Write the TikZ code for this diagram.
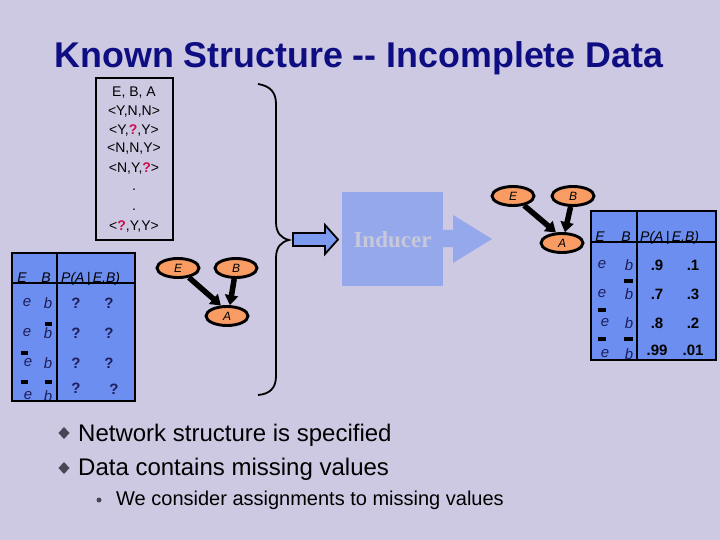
\documentclass[tikz,border=0pt]{standalone}
\usepackage{fontspec}
\setmainfont{Liberation Sans}
\newfontfamily\inducerfont{Liberation Serif}
\usetikzlibrary{shapes.geometric,arrows.meta}
\definecolor{bg}{RGB}{205,201,226}
\definecolor{titlecol}{RGB}{14,14,130}
\definecolor{tblfill}{RGB}{108,142,240}
\definecolor{indfill}{RGB}{150,168,236}
\definecolor{smallarr}{RGB}{124,155,240}
\definecolor{orng}{RGB}{248,156,100}
\definecolor{qred}{RGB}{200,16,74}
\definecolor{qnavy}{RGB}{30,30,90}
\definecolor{indtext}{RGB}{200,200,218}
\definecolor{bulletcol}{RGB}{70,70,85}
\tikzset{
  titlestyle/.style={font=\fontsize{35.8}{40}\selectfont\bfseries, text=titlecol, inner sep=0pt},
  databox/.style={draw=black, line width=1.6pt, minimum width=77pt, minimum height=162pt, inner sep=0pt},
  dtext/.style={font=\fontsize{14}{14}\selectfont, inner sep=0pt},
  tblbg/.style={fill=tblfill, inner sep=0pt},
  tborder/.style={draw=black, line width=2.4pt},
  hdr/.style={font=\fontsize{14}{14}\selectfont\itshape, inner sep=0pt, anchor=base},
  cell/.style={font=\fontsize{15}{15}\selectfont\itshape, text=qnavy, inner sep=0pt},
  qcell/.style={font=\fontsize{15}{15}\selectfont\bfseries, text=qnavy, inner sep=0pt},
  vcell/.style={font=\fontsize{15}{15}\selectfont\bfseries, text=black, inner sep=0pt},
  negbar/.style={fill=black},
  bn/.style={ellipse, draw=black, line width=2.9pt, fill=orng, minimum width=42pt, minimum height=19pt, inner sep=0pt, font=\fontsize{12}{12}\selectfont\itshape},
  netarrow/.style={line width=5.5pt, -{Triangle[length=10pt,width=13pt]}},
  bullettext/.style={font=\fontsize{24}{24}\selectfont, anchor=base west, inner sep=0pt},
  subtext/.style={font=\fontsize{20}{20}\selectfont, anchor=base west, inner sep=0pt},
}
\begin{document}
\begin{tikzpicture}[x=1pt,y=-1pt]
\fill[bg] (0,0) rectangle (720,540);
\useasboundingbox (0,0) rectangle (720,540);

% title
\node[titlestyle] (title) at (359,58) {Known Structure -{}- Incomplete Data};

% data box
\node[databox] (data) at (134.5,159) {};
\node[dtext] (d0) at (134,93) {E, B, A};
\node[dtext] (d1) at (134,112) {<Y,N,N>};
\node[dtext] (d2) at (134,131) {<Y,\textcolor{qred}{\textbf{?}},Y>};
\node[dtext] (d3) at (134,149) {<N,N,Y>};
\node[dtext] (d4) at (134,169) {<N,Y,\textcolor{qred}{\textbf{?}}>};
\node[dtext] (d5) at (134,190) {.};
\node[dtext] (d6) at (134,210) {.};
\node[dtext] (d7) at (134,227) {<\textcolor{qred}{\textbf{?}},Y,Y>};

% brace
\draw[line width=1.8pt] (258,84) .. controls (270,86) and (276,92) .. (276,104)
  -- (276,222) .. controls (276,233) and (281,238) .. (289,240)
  .. controls (281,242) and (276,247) .. (276,258)
  -- (276,376) .. controls (276,388) and (270,394) .. (258,395);

% small block arrow
\filldraw[fill=smallarr, draw=black, line width=1.8pt]
  (293,233) -- (325,233) -- (325,225) -- (338,239.5) -- (325,254) -- (325,246) -- (293,246) -- cycle;

% inducer
\node[fill=indfill, minimum width=101pt, minimum height=94pt, inner sep=0pt] (ind) at (392.5,239) {};
\fill[indfill] (443,230) -- (453,230) -- (453,215) -- (492,239) -- (453,263) -- (453,247) -- (443,247) -- cycle;
\node[font=\fontsize{23}{23}\selectfont\inducerfont\bfseries, text=indtext, inner sep=0pt] (indlabel) at (392.5,240) {Inducer};

% left network
\node[bn] (E1) at (178,268) {E};
\node[bn] (B1) at (236,268) {B};
\node[bn] (A1) at (227,316) {A};
\draw[netarrow] (E1) -- (A1.120);
\draw[netarrow] (B1) -- (A1.75);

% right network
\node[bn] (E2) at (513,196) {E};
\node[bn] (B2) at (573,196) {B};
\node[bn] (A2) at (562,243) {A};
\draw[netarrow] (E2) -- (A2.120);
\draw[netarrow] (B2) -- (A2.75);

% left table
\node[tblbg, minimum width=123pt, minimum height=148pt] (lt) at (73.5,327) {};
\node[hdr] (lth1) at (22,282) {E};
\node[hdr] (lth2) at (46,282) {B};
\node[hdr, anchor=base west] (lth3) at (61,282) {P(A\,|\,E,B)};
\node[cell] (l11) at (27,303) {e};
\node[cell] (l12) at (48,303) {b};
\node[qcell] (l13) at (76,303) {?};
\node[qcell] (l14) at (109,303) {?};
\node[cell] (l21) at (27,333) {e};
\node[cell] (l22) at (48,333) {b};
\fill[negbar] (45,322) rectangle (52,325.5);
\node[qcell] (l23) at (76,333) {?};
\node[qcell] (l24) at (109,333) {?};
\node[cell] (l31) at (28,363) {e};
\fill[negbar] (21,351) rectangle (28,354.5);
\node[cell] (l32) at (48,363) {b};
\node[qcell] (l33) at (76,363) {?};
\node[qcell] (l34) at (109,363) {?};
\node[cell] (l41) at (28,396) {e};
\node[cell] (l42) at (48,396) {b};
\fill[negbar] (21,380) rectangle (28,383.5);
\fill[negbar] (45,380) rectangle (52,383.5);
\node[qcell] (l43) at (76,388) {?};
\node[qcell] (l44) at (114,389) {?};
\fill[bg] (136.2,250) rectangle (150,300);
\draw[tborder] (lt.north west) rectangle (lt.south east);
\draw[tborder] (lt.north west -| 57,0) -- (lt.south west -| 57,0);
\draw[tborder] (lt.west |- 0,283) -- (lt.east |- 0,283);

% right table
\node[tblbg, minimum width=125pt, minimum height=149pt] (rt) at (653.5,285.5) {};
\node[hdr] (rth1) at (600,241) {E};
\node[hdr] (rth2) at (626,241) {B};
\node[hdr, anchor=base west] (rth3) at (640,241) {P(A\,|\,E,B)};
\node[cell] (r11) at (602,265) {e};
\node[cell] (r12) at (629,265) {b};
\node[vcell] (r13) at (657,265) {.9};
\node[vcell] (r14) at (693,265) {.1};
\node[cell] (r21) at (602,294) {e};
\node[cell] (r22) at (629,294) {b};
\fill[negbar] (624,279) rectangle (633,283);
\node[vcell] (r23) at (657,294) {.7};
\node[vcell] (r24) at (693,294) {.3};
\node[cell] (r31) at (605,323) {e};
\fill[negbar] (598,308) rectangle (606,312);
\node[cell] (r32) at (629,323) {b};
\node[vcell] (r33) at (657,323) {.8};
\node[vcell] (r34) at (693,323) {.2};
\node[cell] (r41) at (605,354) {e};
\node[cell] (r42) at (629,354) {b};
\fill[negbar] (598,337) rectangle (606,340.5);
\fill[negbar] (624,337) rectangle (633,340.5);
\node[vcell] (r43) at (657,350) {.99};
\node[vcell] (r44) at (693,350) {.01};
\fill[bg] (717.2,200) rectangle (720,260);
\draw[tborder] (rt.north west) rectangle (rt.south east);
\draw[tborder] (rt.north west -| 637,0) -- (rt.south west -| 637,0);
\draw[tborder] (rt.west |- 0,242) -- (rt.east |- 0,242);

% bullets
\fill[bulletcol] (64,427) -- (69.5,433) -- (64,439) -- (58.5,433) -- cycle;
\node[bullettext] (b1) at (78,441) {Network structure is specified};
\fill[bulletcol] (64,462) -- (69.5,468) -- (64,474) -- (58.5,468) -- cycle;
\node[bullettext] (b2) at (78,475) {Data contains missing values};
\fill[bulletcol] (99,500) circle (2.5);
\node[subtext] (b3) at (116,505) {We consider assignments to missing values};
\end{tikzpicture}
\end{document}
